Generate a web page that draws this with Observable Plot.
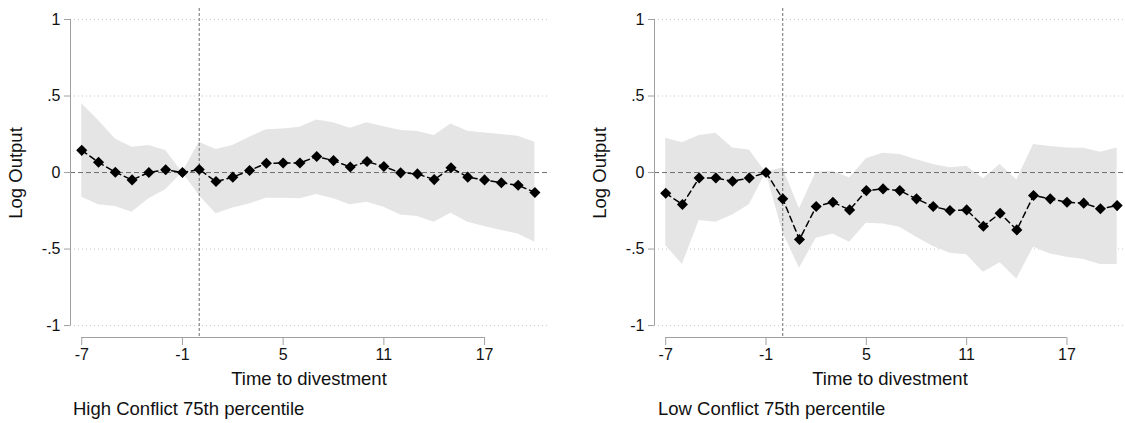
<!DOCTYPE html>
<html><head><meta charset="utf-8">
<script src="https://cdn.jsdelivr.net/npm/d3@7"></script>
<script src="https://cdn.jsdelivr.net/npm/@observablehq/plot@0.6"></script>
<style>
html,body{margin:0;padding:0;background:#fff;overflow:hidden;}
#wrap{position:relative;width:1125px;height:423px;font-family:"Liberation Sans",Arial,sans-serif;}
.panel{position:absolute;top:0;}
.cap{position:absolute;top:398px;font-size:18.5px;line-height:22px;color:#111;white-space:nowrap;}
</style></head><body><div id="wrap"></div>
<script>
// Event time
const periods = [-7,-6,-5,-4,-3,-2,-1,0,1,2,3,4,5,6,7,8,9,10,11,12,13,14,15,16,17,18,19,20];

// High Conflict 75th percentile
const highEst = [0.145,0.067,0.002,-0.048,0.0,0.018,0,0.02,-0.059,-0.03,0.013,0.061,0.062,0.062,0.105,0.078,0.036,0.072,0.039,-0.002,-0.009,-0.046,0.031,-0.03,-0.048,-0.067,-0.083,-0.13];
const highHi  = [0.449,0.34,0.22,0.165,0.176,0.144,0,0.198,0.15,0.176,0.231,0.279,0.285,0.296,0.344,0.325,0.29,0.325,0.30,0.275,0.268,0.242,0.318,0.27,0.259,0.248,0.237,0.198];
const highLo  = [-0.161,-0.211,-0.222,-0.259,-0.172,-0.113,0,-0.15,-0.27,-0.231,-0.205,-0.168,-0.168,-0.172,-0.144,-0.172,-0.211,-0.194,-0.227,-0.277,-0.288,-0.325,-0.266,-0.325,-0.353,-0.379,-0.401,-0.455];

// Low Conflict 75th percentile
const lowEst = [-0.135,-0.209,-0.035,-0.035,-0.057,-0.035,0,-0.172,-0.438,-0.222,-0.194,-0.244,-0.118,-0.107,-0.118,-0.172,-0.222,-0.248,-0.244,-0.351,-0.266,-0.375,-0.15,-0.172,-0.194,-0.2,-0.237,-0.216];
const lowHi  = [0.224,0.194,0.242,0.257,0.161,0.148,0,0.031,-0.237,0.002,0.009,-0.035,0.09,0.126,0.118,0.083,0.052,0.031,0.041,-0.041,0.052,-0.048,0.183,0.17,0.161,0.158,0.133,0.161];
const lowLo  = [-0.477,-0.601,-0.314,-0.325,-0.277,-0.211,0,-0.39,-0.625,-0.429,-0.401,-0.455,-0.331,-0.336,-0.357,-0.423,-0.484,-0.527,-0.538,-0.651,-0.59,-0.695,-0.488,-0.532,-0.553,-0.569,-0.601,-0.601];

// Axes
const yTicks = [-1,-0.5,0,0.5,1];
const yTickLabels = ["-1","-.5","0",".5","1"];
const xTicks = [-7,-1,5,11,17];
const captions = ["High Conflict 75th percentile","Low Conflict 75th percentile"];

const wrap = document.getElementById("wrap");
const yDomain = [-1.078, 1.072];

function makePanel(est, lo, hi, opts) {
  const rows = periods.map((t,i)=>({t, est: est[i], lo: lo[i], hi: hi[i]}));
  const xDomain = [-7.67, opts.xmax];
  return Plot.plot({
    width: opts.width, height: 392,
    marginLeft: 70, marginRight: opts.mr, marginTop: 8, marginBottom: 55,
    style: {fontFamily: "'Liberation Sans', Arial, sans-serif", fontSize: "16px", color: "#111", background: "#fff"},
    x: {domain: xDomain},
    y: {domain: yDomain},
    marks: [
      Plot.ruleY(yTicks.filter(d=>d!==0), {stroke:"#c8c8c8", strokeDasharray:"1,3", strokeWidth:1}),
      Plot.areaY(rows, {x:"t", y1:"lo", y2:"hi", fill:"#e5e5e5", curve:"linear"}),
      Plot.ruleY([0], {stroke:"#707070", strokeDasharray:"5,3", strokeWidth:1}),
      Plot.ruleX([0], {stroke:"#707070", strokeDasharray:"3,2", strokeWidth:1}),
      Plot.ruleX([xDomain[0]], {y1: yTicks[0], y2: yTicks[yTicks.length-1], stroke:"#a0a0a0"}),
      Plot.ruleY([yDomain[0]], {x1: xTicks[0], x2: xTicks[xTicks.length-1], stroke:"#a0a0a0"}),
      Plot.axisY(yTicks, {tickSize: 6, tickPadding: 4, stroke:"#a0a0a0", fill:"#111", fontSize:16, label:null,
        tickFormat: d => yTickLabels[yTicks.indexOf(d)]}),
      Plot.axisY({ticks: [], label: "Log Output", labelAnchor:"center", labelArrow:"none", labelOffset: 62, fontSize: 18.5, fill:"#111"}),
      Plot.axisX(xTicks, {tickSize: 8, tickPadding: 3, stroke:"#a0a0a0", fill:"#111", fontSize:16, label:null, tickFormat: d => String(d)}),
      Plot.axisX({ticks: [], label: "Time to divestment", labelAnchor:"center", labelArrow:"none", labelOffset: 47, fontSize: 18.5, fill:"#111"}),
      Plot.line(rows, {x:"t", y:"est", stroke:"#000", strokeWidth:1.5, strokeDasharray:"6,4"}),
      Plot.dot(rows, {x:"t", y:"est", symbol:"diamond2", r:5, fill:"#000", stroke:"none"})
    ]
  });
}

const specs = [
  {est: highEst, lo: highLo, hi: highHi, left: 0, width: 562, mr: 15, xmax: 20.75, capLeft: 73},
  {est: lowEst, lo: lowLo, hi: lowHi, left: 584, width: 541, mr: 0, xmax: 20.5, capLeft: 658}
];
specs.forEach((s, k) => {
  const div = document.createElement("div");
  div.className = "panel";
  div.style.left = s.left + "px";
  div.appendChild(makePanel(s.est, s.lo, s.hi, s));
  wrap.appendChild(div);
  const cap = document.createElement("div");
  cap.className = "cap";
  cap.style.left = s.capLeft + "px";
  cap.textContent = captions[k];
  wrap.appendChild(cap);
});
</script></body></html>
